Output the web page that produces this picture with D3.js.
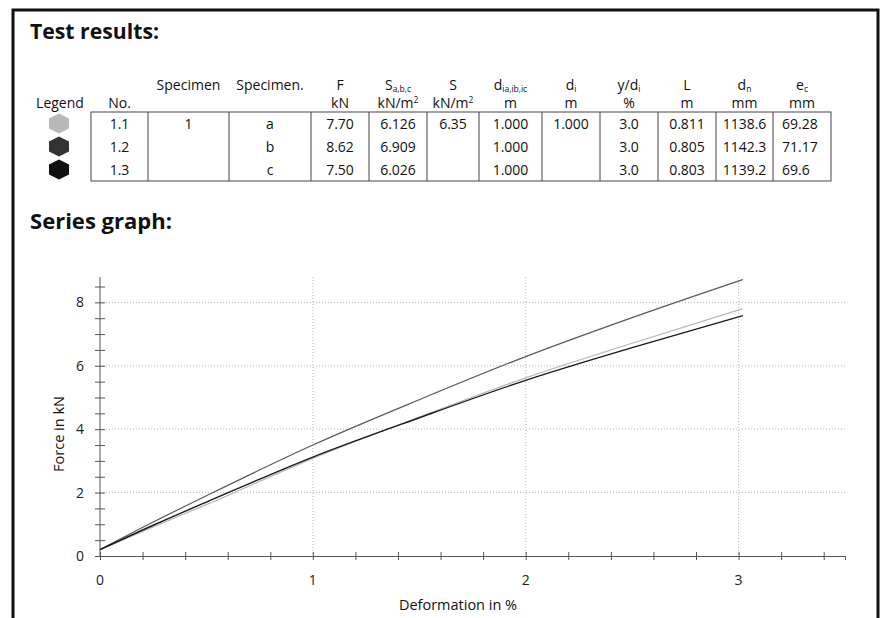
<!DOCTYPE html>
<html>
<head>
<meta charset="utf-8">
<script src="https://cdn.jsdelivr.net/npm/d3@7"></script>
<style>
  html, body { margin: 0; padding: 0; background: #fff; }
  svg { display: block; }
  text { font-family: "Open Sans", "Noto Sans", sans-serif; fill: #111; }
</style>
</head>
<body>
<svg id="chart" width="883" height="618"></svg>
<script>
// ---------- table data ----------
const legendNos   = ["1.1", "1.2", "1.3"];
const specimen    = ["1", "", ""];
const specimenDot = ["a", "b", "c"];
const forceF      = ["7.70", "8.62", "7.50"];
const sabc        = ["6.126", "6.909", "6.026"];
const sMean       = ["6.35", "", ""];
const dia         = ["1.000", "1.000", "1.000"];
const di          = ["1.000", "", ""];
const ydi         = ["3.0", "3.0", "3.0"];
const lengthL     = ["0.811", "0.805", "0.803"];
const dn          = ["1138.6", "1142.3", "1139.2"];
const ec          = ["69.28", "71.17", "69.6"];

// ---------- series data ----------
const deformation = [0, 0.25, 0.5, 1, 1.5, 2, 2.5, 3.02];
const series11 = [0.2, 0.92, 1.62, 3.08, 4.38, 5.62, 6.71, 7.80];
const series12 = [0.2, 1.07, 1.90, 3.50, 4.93, 6.29, 7.52, 8.72];
const series13 = [0.2, 0.97, 1.70, 3.12, 4.36, 5.54, 6.57, 7.58];
const xTickLabels = [0, 1, 2, 3];
const yTickLabels = [0, 2, 4, 6, 8];

const svg = d3.select("#chart");
const FONT = '"Open Sans", "Noto Sans", sans-serif';

// frame
svg.append("rect").attr("x", 13).attr("y", 10).attr("width", 865).attr("height", 700)
  .attr("fill", "none").attr("stroke", "#111").attr("stroke-width", 3);

// section titles
svg.append("text").attr("x", 30).attr("y", 39).attr("font-size", 21).attr("font-weight", 700)
  .attr("textLength", 129).attr("lengthAdjust", "spacingAndGlyphs").text("Test results:");
svg.append("text").attr("x", 30).attr("y", 229).attr("font-size", 21).attr("font-weight", 700)
  .attr("textLength", 142).attr("lengthAdjust", "spacingAndGlyphs").text("Series graph:");

// ---------- table ----------
const colEdges = [91, 148, 229, 311, 369, 427, 479, 542, 600, 658, 716, 773, 831];
const columns = [legendNos, specimen, specimenDot, forceF, sabc, sMean, dia, di, ydi, lengthL, dn, ec];
const rowScale = d3.scaleBand().domain(d3.range(3)).range([112, 181]);
const tableTop = 112, tableBottom = 181;
const fs = 14;

const tbl = svg.append("g");
tbl.append("rect").attr("x", colEdges[0]).attr("y", tableTop)
  .attr("width", colEdges[colEdges.length - 1] - colEdges[0]).attr("height", tableBottom - tableTop)
  .attr("fill", "none").attr("stroke", "#444").attr("stroke-width", 1);
colEdges.slice(1, -1).forEach(xx => {
  tbl.append("line").attr("x1", xx).attr("x2", xx).attr("y1", tableTop).attr("y2", tableBottom)
    .attr("stroke", "#444").attr("stroke-width", 1);
});
columns.forEach((col, ci) => {
  const x0 = colEdges[ci], x1 = colEdges[ci + 1];
  const isLeft = ci === columns.length - 1;
  col.forEach((v, ri) => {
    if (!v) return;
    tbl.append("text")
      .attr("x", isLeft ? x0 + 9 : (x0 + x1) / 2)
      .attr("y", rowScale(ri) + rowScale.bandwidth() / 2 + 5)
      .attr("text-anchor", isLeft ? "start" : "middle")
      .attr("font-size", fs).text(v);
  });
});

// legend hexagons
const legendFill = ["#b8b8b8", "#333", "#111"];
const hex = "M0,-10 L10,-5 L10,5 L0,10 L-10,5 L-10,-5 Z";
legendNos.forEach((n, i) => {
  tbl.append("path").attr("d", hex)
    .attr("transform", `translate(59,${rowScale(i) + rowScale.bandwidth() / 2})`)
    .attr("fill", legendFill[i]);
});

// headers
const hdrY1 = 90, hdrY2 = 108;
function center(ci) { return (colEdges[ci] + colEdges[ci + 1]) / 2; }
function hdr(xx, yy, parts) {
  const t = tbl.append("text").attr("x", xx).attr("y", yy).attr("text-anchor", "middle").attr("font-size", fs);
  parts.forEach(p => {
    const ts = t.append("tspan").text(p[0]);
    if (p[1] === "sub") ts.attr("font-size", 8.5).attr("dy", 2);
    if (p[1] === "sup") ts.attr("font-size", 8.5).attr("dy", -5);
  });
  return t;
}
hdr(60, hdrY2, [["Legend"]]);
hdr(center(0), hdrY2, [["No."]]);
hdr(center(1), hdrY1, [["Specimen"]]);
hdr(center(2), hdrY1, [["Specimen."]]);
hdr(center(3), hdrY1, [["F"]]);
hdr(center(3), hdrY2, [["kN"]]);
hdr(center(4), hdrY1, [["S"], ["a,b,c", "sub"]]);
hdr(center(4), hdrY2, [["kN/m"], ["2", "sup"]]);
hdr(center(5), hdrY1, [["S"]]);
hdr(center(5), hdrY2, [["kN/m"], ["2", "sup"]]);
hdr(center(6), hdrY1, [["d"], ["ia,ib,ic", "sub"]]);
hdr(center(6), hdrY2, [["m"]]);
hdr(center(7), hdrY1, [["d"], ["i", "sub"]]);
hdr(center(7), hdrY2, [["m"]]);
hdr(center(8), hdrY1, [["y/d"], ["i", "sub"]]);
hdr(center(8), hdrY2, [["%"]]);
hdr(center(9), hdrY1, [["L"]]);
hdr(center(9), hdrY2, [["m"]]);
hdr(center(10), hdrY1, [["d"], ["n", "sub"]]);
hdr(center(10), hdrY2, [["mm"]]);
hdr(center(11), hdrY1, [["e"], ["c", "sub"]]);
hdr(center(11), hdrY2, [["mm"]]);

// ---------- chart ----------
const x = d3.scaleLinear().domain([0, 3.5]).range([100, 845]);
const y = d3.scaleLinear().domain([0, 8.8]).range([556, 277]);

const g = svg.append("g");
// grid
g.selectAll(".hgrid").data(yTickLabels.filter(d => d > 0)).join("line")
  .attr("x1", x(0)).attr("x2", x(3.5)).attr("y1", d => y(d)).attr("y2", d => y(d))
  .attr("stroke", "#b5b5b5").attr("stroke-width", 1).attr("stroke-dasharray", "1,2");
g.selectAll(".vgrid").data(xTickLabels.filter(d => d > 0)).join("line")
  .attr("x1", d => x(d)).attr("x2", d => x(d)).attr("y1", y(8.8)).attr("y2", y(0))
  .attr("stroke", "#b5b5b5").attr("stroke-width", 1).attr("stroke-dasharray", "1,2");

// x axis
const xMinor = d3.range(0, 3.41, 0.2).map(v => +v.toFixed(1));
const xAxisG = g.append("g").attr("transform", `translate(0,${y(0)})`)
  .call(d3.axisBottom(x).tickValues(xMinor).tickSize(4).tickFormat(""));
xAxisG.select(".domain").attr("stroke", "#555");
xAxisG.selectAll(".tick line").attr("y1", -4).attr("y2", 4).attr("stroke", "#555");
g.selectAll(".xlab").data(xTickLabels).join("text")
  .attr("x", d => x(d)).attr("y", y(0) + 29).attr("text-anchor", "middle")
  .style("font-size", "14px").style("font-family", FONT).style("fill", "#222")
  .text(d => d3.format("d")(d));

// y axis
const yMinor = d3.range(0, 8.51, 0.5);
const yAxisG = g.append("g").attr("transform", `translate(${x(0)},0)`)
  .call(d3.axisLeft(y).tickValues(yMinor).tickSize(5).tickFormat(""));
yAxisG.select(".domain").attr("d", `M0,${y(0)}V${y(8.8)}`).attr("stroke", "#555");
yAxisG.selectAll(".tick line").attr("x1", -5).attr("x2", 5).attr("stroke", "#555");
g.selectAll(".ylab").data(yTickLabels).join("text")
  .attr("x", x(0) - 16).attr("y", d => y(d) + 5).attr("text-anchor", "end")
  .style("font-size", "14px").style("font-family", FONT).style("fill", "#222")
  .text(d => d3.format("d")(d));

// axis titles
svg.append("text").attr("x", 458).attr("y", 610).attr("text-anchor", "middle")
  .style("font-size", "14.5px").text("Deformation in %");
svg.append("text").attr("transform", "translate(64,434) rotate(-90)").attr("text-anchor", "middle")
  .style("font-size", "14.5px").text("Force in kN");

// lines
const line = d3.line().x((d, i) => x(deformation[i])).y(d => y(d)).curve(d3.curveMonotoneX);
const seriesList = [
  { name: "1.1", values: series11, color: "#b5b5b5", w: 1.2 },
  { name: "1.2", values: series12, color: "#5a5a5a", w: 1.2 },
  { name: "1.3", values: series13, color: "#1a1a1a", w: 1.4 }
];
g.selectAll(".series").data(seriesList).join("path")
  .attr("d", d => line(d.values)).attr("fill", "none")
  .attr("stroke", d => d.color).attr("stroke-width", d => d.w);
</script>
</body>
</html>
